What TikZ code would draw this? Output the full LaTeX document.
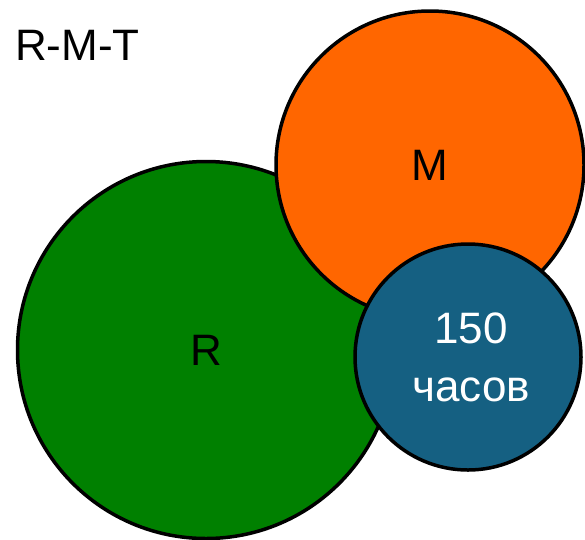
\documentclass[tikz,border=0pt]{standalone}
\usepackage{fontspec}
\setmainfont{Liberation Sans}
\definecolor{rgreen}{HTML}{008000}
\definecolor{morange}{HTML}{FF6600}
\definecolor{tblue}{HTML}{156082}

\begin{document}
\begin{tikzpicture}[x=1pt, y=-1pt,
    blob/.style={circle, draw=black, line width=3.5pt, inner sep=0pt,
      font=\fontsize{44}{58}\selectfont, align=center}]
  \useasboundingbox (0,0) rectangle (585,539);
  \node[anchor=base west, inner sep=0pt, font=\fontsize{44}{52}\selectfont] (title) at (15,60) {R-M-T};
  % circles, back to front
  \node[blob, fill=rgreen, minimum size=377pt] (r) at (206,350) {R};
  \node[blob, fill=morange, minimum size=308pt] (m) at (430,165) {M};
  \node[blob, fill=tblue, text=white, minimum size=226pt, text depth=0pt] (t) at (468,357) {\hspace*{6pt}150\\\hspace*{6pt}часов};
\end{tikzpicture}
\end{document}
